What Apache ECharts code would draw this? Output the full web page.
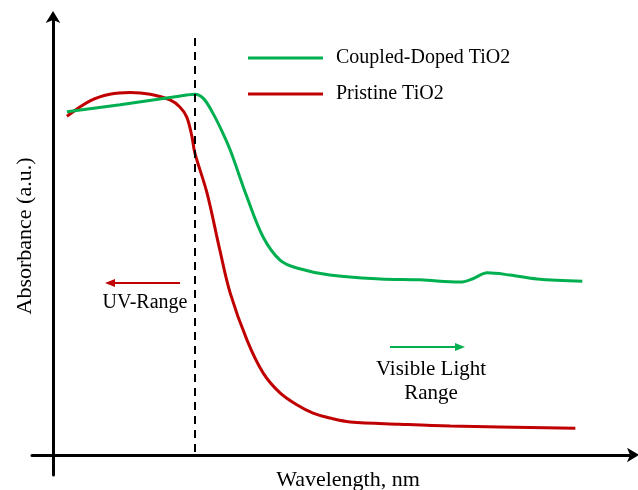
<!DOCTYPE html>
<html>
<head>
<meta charset="utf-8">
<script src="https://cdn.jsdelivr.net/npm/echarts@6/dist/echarts.min.js"></script>
<style>html,body{margin:0;padding:0;background:#fff}#c{width:638px;height:490px}</style>
</head>
<body>
<div id="c"></div>
<script>
// Wavelength (arbitrary units) and absorbance (a.u.)
const coupledX = [2.4, 11.6, 21.1, 23.0, 24.5, 26.0, 27.6, 29.1, 30.6, 33.5, 36.3, 39.2, 42.1, 47.8, 56.5, 63.4, 70.3, 72.4, 75.0, 78.9, 83.6, 91.4];
const coupledY = [78.0, 79.6, 81.4, 81.8, 82.0, 81.0, 77.7, 73.8, 69.3, 58.6, 49.5, 44.3, 42.5, 40.9, 40.0, 39.8, 39.3, 40.0, 41.4, 40.9, 40.0, 39.5];
const pristineX = [2.4, 6.4, 9.8, 13.3, 16.8, 20.2, 21.9, 23.1, 24.0, 24.5, 26.6, 28.8, 30.6, 33.5, 36.3, 39.2, 42.1, 44.9, 47.8, 51.3, 59.9, 68.6, 90.2];
const pristineY = [77.0, 80.5, 82.0, 82.4, 82.0, 80.7, 79.1, 76.8, 72.3, 68.6, 59.5, 46.6, 36.8, 26.1, 18.6, 14.1, 11.4, 9.5, 8.4, 7.5, 7.0, 6.6, 6.1];
const uvEdgeX = 24.5;
const uvEdgeTop = 94.8;
const seriesNames = ['Coupled-Doped TiO2', 'Pristine TiO2'];

const zip = (xs, ys) => xs.map((x, i) => [x, ys[i]]);
const serif = 'Liberation Serif';
const chart = echarts.init(document.getElementById('c'));
chart.setOption({
  animation: false,
  grid: { left: 32, right: 3, top: 15, bottom: 15 },
  xAxis: {
    type: 'value', min: -3.63, max: 100.5,
    axisLine: { onZero: true, lineStyle: { color: '#000', width: 3 }, symbol: ['none', 'arrow'], symbolSize: [11, 12], symbolOffset: [0, 4] },
    axisTick: { show: false }, axisLabel: { show: false }, splitLine: { show: false }
  },
  yAxis: {
    type: 'value', min: -4.55, max: 100,
    axisLine: { onZero: true, lineStyle: { color: '#000', width: 3 }, symbol: ['none', 'arrow'], symbolSize: [11, 12], symbolOffset: [0, 4] },
    axisTick: { show: false }, axisLabel: { show: false }, splitLine: { show: false }
  },
  legend: {
    orient: 'vertical', left: 243, top: 43, itemWidth: 75, itemHeight: 3, itemGap: 16,
    icon: 'rect',
    textStyle: { fontFamily: serif, fontSize: 20, color: '#000', padding: [0, 0, 0, 8] },
    data: seriesNames
  },
  series: [
    {
      name: seriesNames[0], type: 'line', data: zip(coupledX, coupledY), smooth: 0.35,
      showSymbol: false, color: '#00B050', lineStyle: { width: 3, color: '#00B050' }, z: 3,
      markLine: {
        silent: true, symbol: ['none', 'none'], label: { show: false },
        lineStyle: { color: '#000', type: [8, 6], width: 2 },
        data: [[{ coord: [uvEdgeX, uvEdgeTop] }, { coord: [uvEdgeX, 0] }]]
      }
    },
    {
      name: seriesNames[1], type: 'line', data: zip(pristineX, pristineY), smooth: 0.35,
      showSymbol: false, color: '#C00000', lineStyle: { width: 3, color: '#C00000' }, z: 2
    }
  ],
  graphic: [
    { type: 'text', style: { text: 'Wavelength, nm', font: '22px "Liberation Serif"', fill: '#000', x: 348, y: 480, align: 'center', verticalAlign: 'middle' } },
    { type: 'text', rotation: Math.PI / 2, x: 25, y: 236, style: { text: 'Absorbance (a.u.)', font: '22px "Liberation Serif"', fill: '#000', align: 'center', verticalAlign: 'middle' } },
    { type: 'line', shape: { x1: 180, y1: 283, x2: 113, y2: 283 }, style: { stroke: '#C00000', lineWidth: 2 } },
    { type: 'polygon', shape: { points: [[105, 283], [115, 279], [115, 287]] }, style: { fill: '#C00000' } },
    { type: 'text', style: { text: 'UV-Range', font: '20px "Liberation Serif"', fill: '#000', x: 145, y: 303, align: 'center', verticalAlign: 'middle' } },
    { type: 'line', shape: { x1: 390, y1: 347, x2: 457, y2: 347 }, style: { stroke: '#00B050', lineWidth: 2 } },
    { type: 'polygon', shape: { points: [[465, 347], [455, 343], [455, 351]] }, style: { fill: '#00B050' } },
    { type: 'text', style: { text: 'Visible Light', font: '21px "Liberation Serif"', fill: '#000', x: 431, y: 369, align: 'center', verticalAlign: 'middle' } },
    { type: 'text', style: { text: 'Range', font: '21px "Liberation Serif"', fill: '#000', x: 431, y: 393, align: 'center', verticalAlign: 'middle' } }
  ]
});
</script>
</body>
</html>
